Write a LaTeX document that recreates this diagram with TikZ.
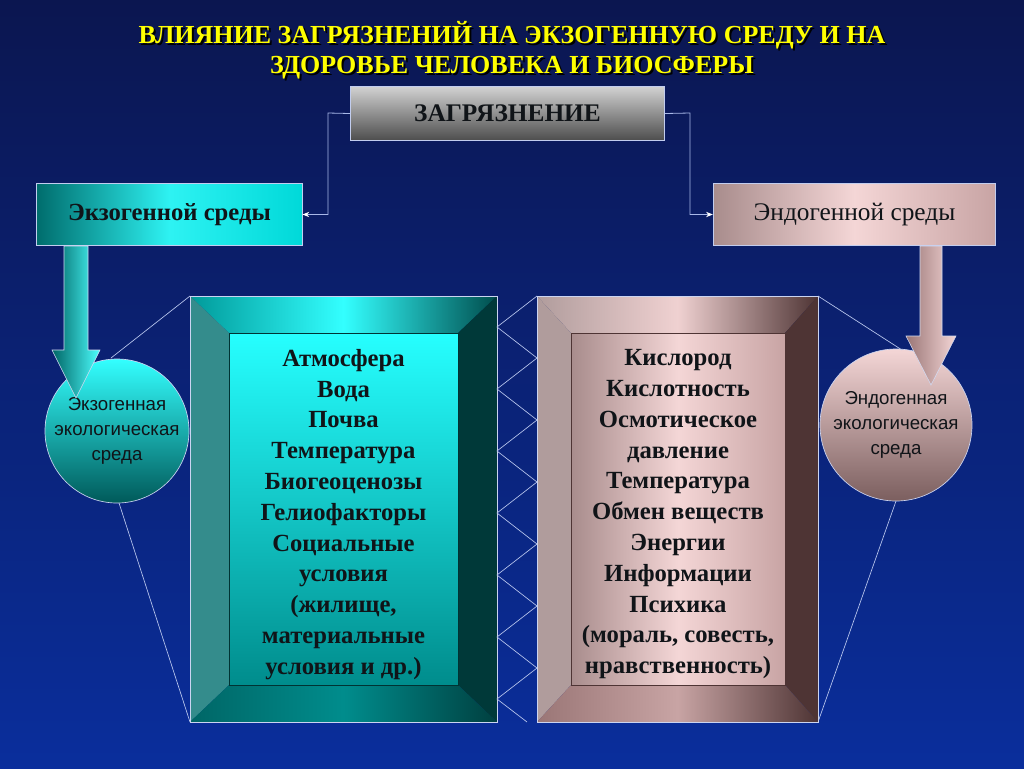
\documentclass[tikz,border=0pt]{standalone}
\usepackage{fontspec}
\setmainfont{Liberation Serif}
\newfontfamily\circfont{Liberation Sans}
\usetikzlibrary{arrows.meta}
\definecolor{bgtop}{HTML}{0B1650}
\definecolor{bgbot}{HTML}{0A2E9C}
\definecolor{ttl}{HTML}{FFFF00}
\definecolor{lnk}{HTML}{A8B8E8}
\definecolor{txt}{HTML}{101418}
\definecolor{pkL}{HTML}{A88C8C}
\definecolor{pkM}{HTML}{F4D6D6}
\definecolor{pkR}{HTML}{C8A4A4}
\definecolor{pkD}{HTML}{4E3434}
\definecolor{pkG}{HTML}{B09C9C}
\definecolor{pkB}{HTML}{9A7676}
\tikzset{
  box/.style={draw=lnk!70!white, line width=0.6pt, minimum height=47pt, inner sep=0pt, text=txt},
  circ/.style={circle, draw=lnk!60!white, line width=0.5pt, inner sep=0pt, text=txt, align=center,
    font=\circfont\fontsize{14}{19}\selectfont},
  link/.style={draw=lnk, line width=0.6pt, -{Stealth[length=5pt,width=4pt,color=white]}},
  thin/.style={draw=lnk!80!white, line width=0.5pt},
  list/.style={align=center, text=txt, font=\bfseries\fontsize{18.5}{23.1}\selectfont},
  ttlfont/.style={font=\bfseries\fontsize{19.5}{22.5}\selectfont, align=center}
}
\begin{document}
\begin{tikzpicture}[x=0.75pt,y=-0.75pt]
\useasboundingbox (0,0) rectangle (1024,768);
\shade[top color=bgtop, bottom color=bgbot] (0,0) rectangle (1024,768);
% title
\node[ttlfont, text=black] at (514,52) {ВЛИЯНИЕ ЗАГРЯЗНЕНИЙ НА ЭКЗОГЕННУЮ СРЕДУ И НА\\ЗДОРОВЬЕ ЧЕЛОВЕКА И БИОСФЕРЫ};
\node[ttlfont, text=ttl] (title) at (512,50) {ВЛИЯНИЕ ЗАГРЯЗНЕНИЙ НА ЭКЗОГЕННУЮ СРЕДУ И НА\\ЗДОРОВЬЕ ЧЕЛОВЕКА И БИОСФЕРЫ};
% top boxes
\node[box, minimum width=236pt, minimum height=41pt, top color=gray!35, bottom color=gray!60!black,
  font=\bfseries\fontsize{19}{22}\selectfont] (zag) at (507.5,113.5) {ЗАГРЯЗНЕНИЕ};
\node[box, minimum width=199pt, left color=teal!85!black, right color=cyan!70!teal, middle color=cyan!80!white!90!teal,
  font=\bfseries\fontsize{18.5}{22}\selectfont] (exo) at (169.5,214.5) {Экзогенной среды};
\node[box, minimum width=212pt, left color=pkL, right color=pkR, middle color=pkM,
  font=\fontsize{19}{22}\selectfont] (endo) at (854.5,214.5) {Эндогенной среды};
\coordinate (lc) at (328,113);
\coordinate (rc) at (690,113);
\draw[link] (zag.west) -- (lc) |- (exo.east);
\draw[link] (zag.east) -- (rc) |- (endo.west);
% circles
\node[circ, minimum size=108pt, shading angle=60, top color=cyan!80!white, bottom color=teal!70!black] (ce) at (117,431) {Экзогенная\\экологическая\\среда};
\node[circ, minimum size=114pt, shading angle=60, top color=pkM, bottom color=pkB!80!black] (cn) at (896,425) {Эндогенная\\экологическая\\среда};
% connecting thin lines
\draw[thin] (111,358) -- (190,296);
\draw[thin] (119,503) -- (190,722);
\draw[thin] (818,296) -- (902,350);
\draw[thin] (896,501) -- (818,722);
% big arrows
\shade[left color=teal!80!black, right color=cyan!70!white, draw=lnk!50!white, line width=0.4pt]
  (64,246) -- (88,246) -- (88,350) -- (100,350) -- (76,398) -- (52,350) -- (64,350) -- cycle;
\shade[left color=pkB, right color=pkM, draw=lnk!50!white, line width=0.4pt]
  (920,246) -- (942,246) -- (942,336) -- (956,336) -- (931,385) -- (906,336) -- (920,336) -- cycle;
% left bevel frame
\shade[left color=teal!80!cyan, right color=teal!60!black, middle color=cyan!80!white] (190,296) -- (497,296) -- (458,333) -- (229,333) -- cycle;
\fill[teal!55!gray!90!cyan] (190,296) -- (229,333) -- (229,685) -- (190,722) -- cycle;
\fill[teal!45!black] (497,296) -- (458,333) -- (458,685) -- (497,722) -- cycle;
\shade[left color=teal!80!black, right color=teal!50!black, middle color=teal!90!cyan] (190,722) -- (229,685) -- (458,685) -- (497,722) -- cycle;
\node[draw=teal!40!black, line width=0.4pt, minimum width=171.75pt, minimum height=264pt, inner sep=0pt,
  top color=cyan!85!white, bottom color=teal!90!cyan] (lin) at (343.5,509) {};
\draw[lnk!60!white, line width=0.4pt] (190,296) rectangle (497,722);
% right bevel frame
\shade[left color=pkG, right color=pkD, middle color=pkM!90!pkR] (537,296) -- (818,296) -- (785,333) -- (571,333) -- cycle;
\fill[pkG] (537,296) -- (571,333) -- (571,685) -- (537,722) -- cycle;
\fill[pkD] (818,296) -- (785,333) -- (785,685) -- (818,722) -- cycle;
\shade[left color=pkB, right color=pkD, middle color=pkR] (537,722) -- (571,685) -- (785,685) -- (818,722) -- cycle;
\node[draw=pkD, line width=0.4pt, minimum width=160.5pt, minimum height=264pt, inner sep=0pt,
  left color=pkL, right color=pkR, middle color=pkM] (rin) at (678,509) {};
\draw[lnk!60!white, line width=0.4pt] (537,296) rectangle (818,722);
% zigzag lattice
\draw[thin] (537,296) -- (497,327) -- (537,358) -- (497,389) -- (537,420) -- (497,451) -- (537,482) -- (497,513) -- (537,544) -- (497,575) -- (537,606) -- (497,637) -- (537,668) -- (497,699) -- (527,722);
% lists
\node[list] (ll) at ([yshift=-4pt]lin.center) {Атмосфера\\Вода\\Почва\\Температура\\Биогеоценозы\\Гелиофакторы\\Социальные\\условия\\(жилище,\\материальные\\условия и др.)};
\node[list] (rl) at ([yshift=-4pt]rin.center) {Кислород\\Кислотность\\Осмотическое\\давление\\Температура\\Обмен веществ\\Энергии\\Информации\\Психика\\(мораль, совесть,\\нравственность)};
\end{tikzpicture}
\end{document}
